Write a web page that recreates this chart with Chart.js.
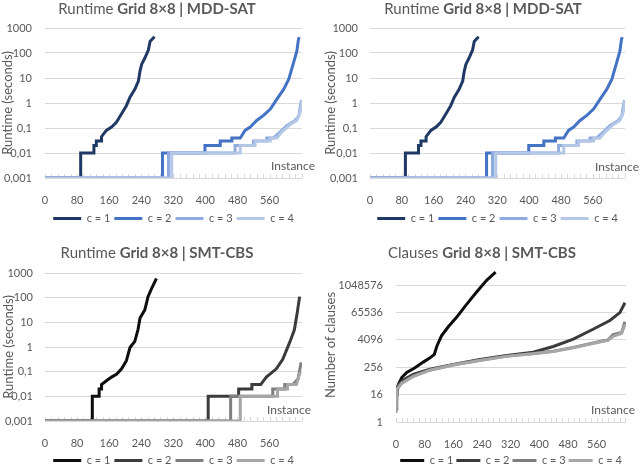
<!DOCTYPE html>
<html>
<head>
<meta charset="utf-8">
<script src="https://cdn.jsdelivr.net/npm/chart.js@4"></script>
<style>
html, body { margin: 0; padding: 0; width: 640px; height: 465px; overflow: hidden; background: #fff; }
canvas { position: absolute; }
</style>
</head>
<body>
<canvas id="mdd1" width="320" height="235" style="left:0;top:0"></canvas>
<canvas id="mdd2" width="320" height="235" style="left:320px;top:0"></canvas>
<canvas id="smt" width="320" height="247" style="left:0;top:230px"></canvas>
<canvas id="clauses" width="320" height="247" style="left:320px;top:230px"></canvas>
<script>
const seriesLabels = ['c = 1', 'c = 2', 'c = 3', 'c = 4'];
const instanceTicks = [0, 80, 160, 240, 320, 400, 480, 560];
const runtimeTicks = [0.001, 0.01, 0.1, 1, 10, 100, 1000];
const runtimeTickLabels = ['0,001', '0,01', '0,1', '1', '10', '100', '1000'];
const clauseTicks = [1, 16, 256, 4096, 65536, 1048576];
const clauseTickLabels = ['1', '16', '256', '4096', '65536', '1048576'];
const blueColors = ['#203864', '#4472c4', '#8faadc', '#b4c7e7'];
const greyColors = ['#0d0d0d', '#3b3b3b', '#7f7f7f', '#a6a6a6'];

// runtime MDD-SAT (sorted per instance)
const mddC1x = [0, 89, 89, 122, 122, 128, 128, 141, 141, 153, 166, 178, 191, 203, 212, 224, 233, 237, 241, 249, 258, 262, 273];
const mddC1y = [0.001, 0.001, 0.01, 0.01, 0.02, 0.02, 0.03, 0.03, 0.045, 0.08, 0.11, 0.17, 0.37, 0.78, 1.7, 3.5, 7.6, 19, 35, 63, 135, 290, 450];
const mddC2x = [0, 293, 293, 399, 399, 437, 437, 466, 466, 487, 499, 512, 528, 545, 562, 578, 595, 608, 620, 628, 632, 634];
const mddC2y = [0.001, 0.001, 0.01, 0.01, 0.02, 0.02, 0.03, 0.03, 0.04, 0.04, 0.08, 0.11, 0.2, 0.32, 0.57, 1.4, 3.5, 8.9, 41, 116, 340, 430];
const mddC3x = [0, 308, 308, 474, 474, 520, 520, 553, 553, 570, 587, 603, 624, 633, 637, 640];
const mddC3y = [0.001, 0.001, 0.01, 0.01, 0.02, 0.02, 0.03, 0.03, 0.04, 0.04, 0.07, 0.125, 0.2, 0.3, 0.8, 1.3];
const mddC4x = [0, 316, 316, 487, 487, 524, 524, 562, 562, 578, 591, 612, 628, 637, 640];
const mddC4y = [0.001, 0.001, 0.01, 0.01, 0.02, 0.02, 0.03, 0.03, 0.04, 0.04, 0.07, 0.14, 0.2, 0.45, 1.2];

// runtime SMT-CBS
const smtC1x = [0, 118, 118, 135, 135, 141, 141, 154, 166, 179, 191, 203, 212, 224, 232, 237, 249, 257, 266, 278];
const smtC1y = [0.001, 0.001, 0.01, 0.01, 0.02, 0.02, 0.03, 0.044, 0.06, 0.08, 0.13, 0.28, 0.95, 1.7, 5.1, 15, 32, 110, 240, 600];
const smtC2x = [0, 407, 407, 483, 483, 516, 516, 538, 552, 577, 593, 610, 622, 629, 635];
const smtC2y = [0.001, 0.001, 0.01, 0.01, 0.02, 0.02, 0.03, 0.03, 0.06, 0.13, 0.32, 1.5, 5, 24, 110];
const smtC3x = [0, 463, 463, 568, 568, 598, 598, 618, 631, 639];
const smtC3y = [0.001, 0.001, 0.01, 0.01, 0.02, 0.02, 0.03, 0.03, 0.05, 0.24];
const smtC4x = [0, 487, 487, 580, 580, 605, 605, 627, 637];
const smtC4y = [0.001, 0.001, 0.01, 0.01, 0.02, 0.02, 0.03, 0.03, 0.1];

// clauses SMT-CBS
const clsC1x = [0, 3, 7, 16, 30, 53, 76, 95, 107, 114, 127, 146, 169, 197, 225, 253, 278];
const clsC1y = [7.5, 20, 46, 90, 150, 245, 430, 660, 950, 2150, 6200, 15500, 40000, 150000, 520000, 1700000, 3900000];
const clsC2x = [0, 2, 16, 48, 95, 160, 234, 309, 383, 439, 495, 550, 597, 625, 639];
const clsC2y = [3.8, 33, 64, 125, 210, 340, 560, 840, 1180, 2100, 4400, 12000, 29000, 65000, 175000];
const clsC3x = [0, 3, 16, 48, 95, 160, 234, 309, 383, 439, 495, 569, 592, 606, 630, 639];
const clsC3y = [2.9, 30, 52, 105, 195, 330, 520, 790, 1020, 1300, 1920, 3500, 4100, 6900, 8700, 26000];
const clsC4x = [0, 3, 16, 48, 95, 160, 234, 309, 383, 439, 495, 569, 592, 606, 630, 639];
const clsC4y = [2.5, 28, 50, 100, 190, 320, 510, 770, 1000, 1270, 1850, 3300, 3900, 5800, 8000, 19000];

const textColor = '#595959';
const gridColor = '#d9d9d9';
const font = 'Lato';

// title with mixed weight, "Instance" label and small x tick marks
const decor = {
    id: 'decor',
    beforeDatasetsDraw(chart){
        const ctx = chart.ctx;
        const a = chart.chartArea;
        const xs = chart.scales.x;
        ctx.save();
        ctx.strokeStyle = gridColor;
        ctx.lineWidth = 1;
        ctx.beginPath();
        for(let v = 0; v <= xs.max; v += 16){
            const px = Math.round(xs.getPixelForValue(v)) + 0.5;
            ctx.moveTo(px, a.bottom);
            ctx.lineTo(px, a.bottom - 4);
        }
        ctx.stroke();
        ctx.restore();
    },
    afterDraw(chart, args, opts){
        const ctx = chart.ctx;
        const a = chart.chartArea;
        ctx.save();
        ctx.fillStyle = textColor;
        ctx.textBaseline = 'middle';
        ctx.textAlign = 'right';
        ctx.font = '12px ' + font;
        ctx.fillText('Instance', a.right + opts.instDx, a.bottom + opts.instDy);

        ctx.textAlign = 'left';
        const parts = [[opts.title[0], 'normal'], [opts.title[1], 'bold']];
        let total = 0;
        for(const p of parts){
            ctx.font = p[1] + ' 15px ' + font;
            total += ctx.measureText(p[0]).width;
        }
        let x = opts.titleX - total / 2;
        for(const p of parts){
            ctx.font = p[1] + ' 15px ' + font;
            ctx.fillText(p[0], x, opts.titleY);
            x += ctx.measureText(p[0]).width;
        }
        ctx.restore();
    }
};

function makeChart(id, cfg){
    const datasets = cfg.xs.map((xArr, i) => ({
        label: seriesLabels[i],
        data: xArr.map((x, k) => ({x: x, y: cfg.ys[i][k]})),
        borderColor: cfg.colors[i],
        backgroundColor: cfg.colors[i],
        borderWidth: 3,
        pointRadius: 0,
        tension: 0,
        fill: false,
        order: 4 - i
    }));

    new Chart(document.getElementById(id), {
        type: 'line',
        data: {datasets: datasets},
        options: {
            responsive: false,
            animation: false,
            layout: {padding: cfg.pad},
            scales: {
                x: {
                    type: 'linear',
                    min: 0,
                    max: cfg.xmax,
                    grid: {display: false},
                    border: {display: false},
                    afterBuildTicks: s => { s.ticks = instanceTicks.map(v => ({value: v})); },
                    afterFit: s => { s.height = cfg.xh; },
                    ticks: {
                        color: textColor,
                        font: {family: font, size: 11},
                        padding: 8,
                        maxRotation: 0,
                        autoSkip: false,
                        callback: v => String(v)
                    }
                },
                y: {
                    type: 'logarithmic',
                    min: cfg.ymin,
                    max: cfg.ymax,
                    grid: {color: gridColor, drawTicks: false},
                    border: {display: false},
                    afterBuildTicks: s => { s.ticks = cfg.yticks.map(v => ({value: v})); },
                    afterFit: s => { s.width = cfg.yw; },
                    ticks: {
                        color: textColor,
                        font: {family: font, size: 11},
                        padding: cfg.ypad,
                        autoSkip: false,
                        callback: (v, i) => cfg.ylabels[i]
                    },
                    title: {
                        display: true,
                        text: cfg.ytitle,
                        color: textColor,
                        font: {family: font, size: 13},
                        padding: {top: cfg.ytitlePad, bottom: 0}
                    }
                }
            },
            plugins: {
                legend: {
                    position: 'bottom',
                    fullSize: false,
                    labels: {
                        boxWidth: cfg.boxW,
                        boxHeight: 3,
                        color: textColor,
                        font: {family: font, size: 11},
                        padding: cfg.legPad,
                        sort: (a, b) => a.datasetIndex - b.datasetIndex,
                        generateLabels: c => Chart.defaults.plugins.legend.labels.generateLabels(c).map(l => Object.assign(l, {lineWidth: 0}))
                    }
                },
                tooltip: {enabled: false},
                decor: cfg.decor
            }
        },
        plugins: [decor]
    });
}

const mddXs = [mddC1x, mddC2x, mddC3x, mddC4x];
const mddYs = [mddC1y, mddC2y, mddC3y, mddC4y];

makeChart('mdd1', {
    xs: mddXs, ys: mddYs, colors: blueColors,
    pad: {left: 0, right: 18, top: 28, bottom: 1},
    xmax: 641, xh: 31, yw: 45, ypad: 13, ytitlePad: 0, boxW: 28, legPad: 4,
    ymin: 0.001, ymax: 1000, yticks: runtimeTicks, ylabels: runtimeTickLabels,
    ytitle: 'Runtime (seconds)',
    decor: {title: ['Runtime ', 'Grid 8×8 | MDD-SAT'], titleX: 157, titleY: 9, instDx: 13, instDy: -12}
});

makeChart('mdd2', {
    xs: mddXs, ys: mddYs, colors: blueColors,
    pad: {left: 0, right: 15, top: 28, bottom: 1},
    xmax: 641, xh: 31, yw: 50, ypad: 12, ytitlePad: 3, boxW: 28, legPad: 4,
    ymin: 0.001, ymax: 1000, yticks: runtimeTicks, ylabels: runtimeTickLabels,
    ytitle: 'Runtime (seconds)',
    decor: {title: ['Runtime ', 'Grid 8×8 | MDD-SAT'], titleX: 163, titleY: 9, instDx: 14, instDy: -11}
});

makeChart('smt', {
    xs: [smtC1x, smtC2x, smtC3x, smtC4x], ys: [smtC1y, smtC2y, smtC3y, smtC4y], colors: greyColors,
    pad: {left: 0, right: 18, top: 43, bottom: 1},
    xmax: 641, xh: 30, yw: 45, ypad: 12, ytitlePad: 1, boxW: 28, legPad: 4,
    ymin: 0.001, ymax: 1000, yticks: runtimeTicks, ylabels: runtimeTickLabels,
    ytitle: 'Runtime (seconds)',
    decor: {title: ['Runtime ', 'Grid 8×8 | SMT-CBS'], titleX: 157, titleY: 23, instDx: 9, instDy: -11}
});

makeChart('clauses', {
    xs: [clsC1x, clsC2x, clsC3x, clsC4x], ys: [clsC1y, clsC2y, clsC3y, clsC4y], colors: greyColors,
    pad: {left: 0, right: 14, top: 38, bottom: 1},
    xmax: 642, xh: 30, yw: 76, ypad: 13, ytitlePad: 3, boxW: 24, legPad: 3,
    ymin: 1, ymax: 5931642, yticks: clauseTicks, ylabels: clauseTickLabels,
    ytitle: 'Number of clauses',
    decor: {title: ['Clauses ', 'Grid 8×8 | SMT-CBS'], titleX: 162, titleY: 23, instDx: 9, instDy: -12}
});
</script>
</body>
</html>
